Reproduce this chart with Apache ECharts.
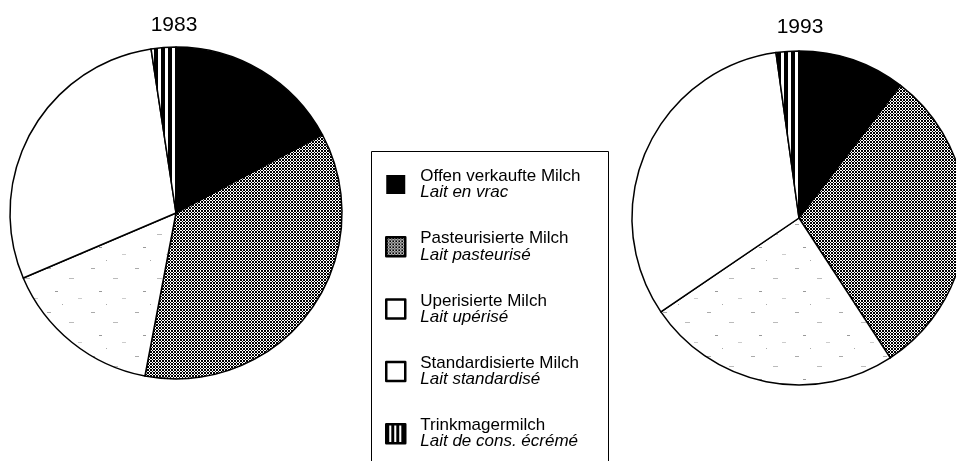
<!DOCTYPE html>
<html><head><meta charset="utf-8">
<script src="https://cdn.jsdelivr.net/npm/echarts/dist/echarts.min.js"></script>
<style>html,body{margin:0;padding:0;background:#fff}#c{width:956px;height:461px}</style>
</head><body><div id="c"></div>
<script>
// ---- data ----
const categoriesDe = ['Offen verkaufte Milch', 'Pasteurisierte Milch', 'Uperisierte Milch', 'Standardisierte Milch', 'Trinkmagermilch'];
const categoriesFr = ['Lait en vrac', 'Lait pasteurisé', 'Lait upérisé', 'Lait standardisé', 'Lait de cons. écrémé'];
const years = ['1983', '1993'];
const values1983 = [17.2, 35.8, 15.6, 29.0, 2.4];
const values1993 = [10.4, 30.4, 24.7, 32.3, 2.2];

// ---- patterns ----
function makeCanvas(w, h, draw) {
  const c = document.createElement('canvas'); c.width = w; c.height = h;
  draw(c.getContext('2d')); return c;
}
const crossPat = { image: makeCanvas(6, 6, g => {
  const idx = [0, 0, 1, 2, 2, 3];
  for (let x = 0; x < 6; x++) for (let y = 0; y < 6; y++) {
    g.fillStyle = ((idx[x] + idx[y]) % 2 === 1) ? '#fff' : '#000';
    g.fillRect(x, y, 1, 1);
  }
}), repeat: 'repeat' };
const stipplePat = { image: makeCanvas(44, 44, g => {
  g.fillStyle = '#fff'; g.fillRect(0, 0, 44, 44);
  g.fillStyle = '#aaa'; g.fillRect(3, 4, 4, 1);
  g.fillStyle = '#bbb'; g.fillRect(25, 14, 5, 1);
  g.fillStyle = '#999'; g.fillRect(11, 27, 3, 1);
  g.fillStyle = '#ccc'; g.fillRect(34, 34, 4, 1);
  g.fillStyle = '#aaa'; g.fillRect(18, 40, 1, 1);
}), repeat: 'repeat' };
const stripePat = { image: makeCanvas(7, 7, g => {
  g.fillStyle = '#fff'; g.fillRect(0, 0, 7, 7);
  g.fillStyle = '#000'; g.fillRect(0, 0, 4, 7);
}), repeat: 'repeat' };
const stripeIconPat = { image: makeCanvas(5, 5, g => {
  g.fillStyle = '#fff'; g.fillRect(0, 0, 5, 5);
  g.fillStyle = '#000'; g.fillRect(0, 0, 3, 5);
}), repeat: 'repeat' };
const fills = ['#000', crossPat, stipplePat, '#fff', stripePat];
const legendFills = ['#000', crossPat, '#fff', '#fff', stripeIconPat];

const FONT = 'Liberation Sans, Arial, Helvetica, sans-serif';

function pieSeries(center, radius, vals) {
  return {
    type: 'pie', center: center, radius: radius, startAngle: 90, clockwise: true,
    silent: true, animation: false, avoidLabelOverlap: false,
    label: { show: false }, labelLine: { show: false },
    emphasis: { disabled: true },
    itemStyle: { borderColor: '#000', borderWidth: 1.5 },
    data: categoriesDe.map((n, i) => ({ name: n, value: vals[i], itemStyle: { color: fills[i] } }))
  };
}

const chart = echarts.init(document.getElementById('c'), null, { renderer: 'canvas' });
chart.setOption({
  animation: false,
  backgroundColor: '#fff',
  legend: {
    orient: 'vertical', left: 385, top: 168, padding: 0,
    itemWidth: 19, itemHeight: 19, itemGap: 29.3,
    selectedMode: false,
    data: categoriesDe.map((n, i) => ({
      name: n, icon: 'rect',
      itemStyle: { color: legendFills[i], borderColor: '#000', borderWidth: i === 0 ? 0 : 2.5 }
    })),
    formatter: n => '{a|' + n + '}\n{b|' + categoriesFr[categoriesDe.indexOf(n)] + '}',
    textStyle: {
      rich: {
        a: { fontFamily: FONT, fontSize: 17, lineHeight: 16, color: '#000', padding: [0, 0, 0, 10] },
        b: { fontFamily: FONT, fontSize: 17, lineHeight: 16, color: '#000', fontStyle: 'italic', padding: [0, 0, 0, 10] }
      }
    }
  },
  graphic: [
    { type: 'rect', shape: { x: 371.5, y: 151.5, width: 237, height: 330 },
      style: { fill: 'none', stroke: '#000', lineWidth: 1 }, silent: true, z: 0 },
    { type: 'text', x: 174, y: 25, style: { text: years[0], font: '21px ' + FONT, fill: '#000', textAlign: 'center', textVerticalAlign: 'middle' } },
    { type: 'text', x: 800, y: 27, style: { text: years[1], font: '21px ' + FONT, fill: '#000', textAlign: 'center', textVerticalAlign: 'middle' } }
  ],
  series: [
    pieSeries([176, 213], 166, values1983),
    pieSeries([799, 218], 167, values1993)
  ]
});
</script>
</body></html>
